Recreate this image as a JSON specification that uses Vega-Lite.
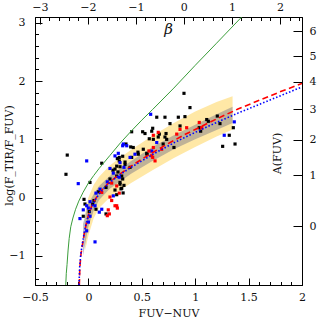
{
  "$schema": "https://vega.github.io/schema/vega-lite/v6.json",
  "width": 267,
  "height": 268,
  "autosize": "none",
  "padding": {"left": 35, "top": 17, "right": 17, "bottom": 34},
  "config": {
    "view": {"stroke": "black", "strokeWidth": 1},
    "axis": {
      "labelFont": "DejaVu Serif", "titleFont": "DejaVu Serif",
      "labelFontSize": 11, "titleFontSize": 11, "titleFontWeight": "normal",
      "labelColor": "#111", "titleColor": "#111",
      "domainColor": "black", "ticks": true, "tickColor": "black", "tickWidth": 1,
      "grid": false, "labelFlush": false, "labelOverlap": false
    }
  },
  "datasets": {
    "points": [
      {"c":0.895,"y":1.79,"g":"k"},{"c":0.951,"y":1.545,"g":"k"},{"c":0.64,"y":1.38,"g":"k"},{"c":0.717,"y":1.38,"g":"k"},
      {"c":0.842,"y":1.38,"g":"k"},{"c":0.904,"y":1.39,"g":"k"},{"c":1.207,"y":1.40,"g":"k"},{"c":1.108,"y":1.34,"g":"k"},
      {"c":1.123,"y":1.31,"g":"k"},{"c":1.232,"y":1.27,"g":"k"},{"c":1.357,"y":1.20,"g":"k"},{"c":1.319,"y":1.07,"g":"k"},
      {"c":1.373,"y":0.92,"g":"k"},{"c":1.257,"y":0.88,"g":"k"},{"c":1.051,"y":1.14,"g":"k"},{"c":0.764,"y":1.27,"g":"k"},
      {"c":0.858,"y":1.23,"g":"k"},{"c":0.602,"y":1.19,"g":"k"},{"c":0.405,"y":1.13,"g":"k"},{"c":0.508,"y":1.13,"g":"k"},
      {"c":0.53,"y":1.10,"g":"k"},{"c":0.727,"y":1.10,"g":"k"},{"c":0.57,"y":1.01,"g":"k"},{"c":0.352,"y":0.92,"g":"k"},
      {"c":0.396,"y":0.87,"g":"k"},{"c":0.514,"y":0.83,"g":"k"},{"c":0.42,"y":0.86,"g":"k"},{"c":0.271,"y":0.67,"g":"k"},
      {"c":0.321,"y":0.71,"g":"k"},{"c":0.289,"y":0.69,"g":"k"},{"c":0.405,"y":0.69,"g":"k"},{"c":0.464,"y":0.78,"g":"k"},
      {"c":0.549,"y":0.745,"g":"k"},{"c":0.801,"y":0.86,"g":"k"},{"c":0.70,"y":0.92,"g":"k"},{"c":-0.198,"y":0.73,"g":"k"},
      {"c":-0.21,"y":0.40,"g":"k"},{"c":0.125,"y":0.59,"g":"k"},{"c":0.289,"y":0.63,"g":"k"},{"c":0.343,"y":0.61,"g":"k"},
      {"c":0.296,"y":0.53,"g":"k"},{"c":0.39,"y":0.52,"g":"k"},{"c":0.343,"y":0.57,"g":"k"},{"c":0.265,"y":0.54,"g":"k"},
      {"c":0.249,"y":0.49,"g":"k"},{"c":0.23,"y":0.47,"g":"k"},{"c":0.312,"y":0.37,"g":"k"},{"c":0.277,"y":0.44,"g":"k"},
      {"c":0.015,"y":0.26,"g":"k"},{"c":0.265,"y":0.37,"g":"k"},{"c":0.202,"y":0.32,"g":"k"},{"c":0.321,"y":0.32,"g":"k"},
      {"c":0.296,"y":0.26,"g":"k"},{"c":0.333,"y":0.21,"g":"k"},{"c":0.312,"y":0.16,"g":"k"},{"c":0.165,"y":0.175,"g":"k"},
      {"c":0.249,"y":0.13,"g":"k"},{"c":0.093,"y":0.10,"g":"k"},{"c":0.265,"y":0.05,"g":"k"},{"c":-0.041,"y":-0.03,"g":"k"},
      {"c":0.052,"y":-0.05,"g":"k"},{"c":0.04,"y":-0.11,"g":"k"},{"c":0.071,"y":-0.20,"g":"k"},{"c":0.008,"y":-0.24,"g":"k"},
      {"c":-0.048,"y":-0.32,"g":"k"},{"c":0.165,"y":-0.28,"g":"k"},{"c":-0.032,"y":-0.11,"g":"k"},{"c":0.593,"y":1.14,"g":"k"},
      {"c":0.664,"y":1.09,"g":"k"},{"c":0.608,"y":1.00,"g":"k"},{"c":0.467,"y":0.745,"g":"k"},{"c":0.546,"y":0.76,"g":"k"},
      {"c":0.654,"y":1.04,"g":"k"},{"c":0.717,"y":1.04,"g":"k"},{"c":0.733,"y":1.00,"g":"k"},{"c":1.038,"y":1.20,"g":"k"},
      {"c":0.296,"y":0.23,"g":"k"},{"c":0.305,"y":0.15,"g":"k"},{"c":0.325,"y":0.08,"g":"k"},
      {"c":0.583,"y":1.43,"g":"b"},{"c":0.327,"y":0.92,"g":"b"},{"c":0.359,"y":0.89,"g":"b"},{"c":0.321,"y":0.89,"g":"b"},
      {"c":0.28,"y":0.76,"g":"b"},{"c":0.436,"y":0.745,"g":"b"},{"c":0.249,"y":0.716,"g":"b"},{"c":0.39,"y":0.69,"g":"b"},
      {"c":-0.016,"y":0.63,"g":"b"},{"c":0.202,"y":0.50,"g":"b"},{"c":0.333,"y":0.52,"g":"b"},{"c":-0.095,"y":0.24,"g":"b"},
      {"c":0.233,"y":0.42,"g":"b"},{"c":0.289,"y":0.35,"g":"b"},{"c":0.177,"y":0.27,"g":"b"},{"c":0.109,"y":0.145,"g":"b"},
      {"c":0.071,"y":0.077,"g":"b"},{"c":0.233,"y":0.03,"g":"b"},{"c":0.015,"y":-0.07,"g":"b"},{"c":0.062,"y":-0.14,"g":"b"},
      {"c":-0.001,"y":-0.18,"g":"b"},{"c":-0.048,"y":-0.21,"g":"b"},{"c":0.125,"y":-0.20,"g":"b"},{"c":0.102,"y":-0.25,"g":"b"},
      {"c":-0.079,"y":-0.36,"g":"b"},{"c":0.015,"y":-0.32,"g":"b"},{"c":0.062,"y":-0.76,"g":"b"},{"c":0.64,"y":0.945,"g":"b"},
      {"c":0.593,"y":0.80,"g":"b"},{"c":1.366,"y":1.30,"g":"b"},{"c":1.272,"y":1.07,"g":"b"},{"c":0.0,"y":-0.42,"g":"b"},
      {"c":-0.016,"y":-0.57,"g":"b"},{"c":0.296,"y":0.60,"g":"b"},{"c":-0.016,"y":-0.14,"g":"b"},
      {"c":0.654,"y":1.12,"g":"r"},{"c":0.608,"y":1.07,"g":"r"},{"c":0.858,"y":1.17,"g":"r"},{"c":0.92,"y":1.20,"g":"r"},
      {"c":1.038,"y":1.29,"g":"r"},{"c":1.061,"y":1.20,"g":"r"},{"c":0.827,"y":1.09,"g":"r"},{"c":0.686,"y":0.83,"g":"r"},
      {"c":0.602,"y":0.69,"g":"r"},{"c":0.624,"y":0.63,"g":"r"},{"c":0.567,"y":0.80,"g":"r"},{"c":0.593,"y":0.72,"g":"r"},
      {"c":0.608,"y":0.86,"g":"r"},{"c":0.218,"y":0.25,"g":"r"},{"c":0.125,"y":0.09,"g":"r"},{"c":0.289,"y":0.077,"g":"r"},
      {"c":0.218,"y":-0.05,"g":"r"},{"c":0.265,"y":-0.14,"g":"r"},{"c":0.186,"y":-0.21,"g":"r"},{"c":0.196,"y":-0.28,"g":"r"},
      {"c":0.271,"y":-0.18,"g":"r"},{"c":0.177,"y":-0.31,"g":"r"},{"c":0.249,"y":-0.14,"g":"r"},{"c":0.265,"y":0.20,"g":"r"},
      {"c":0.202,"y":0.01,"g":"r"}
    ],
    "green": [
      {"c":-0.212,"y":-1.5},{"c":-0.207,"y":-1.3},{"c":-0.2,"y":-1.15},{"c":-0.19,"y":-0.9},{"c":-0.18,"y":-0.7},
      {"c":-0.165,"y":-0.5},{"c":-0.145,"y":-0.35},{"c":-0.12,"y":-0.2},{"c":-0.09,"y":-0.06},{"c":-0.05,"y":0.09},
      {"c":0.0,"y":0.25},{"c":0.05,"y":0.38},{"c":0.1,"y":0.5},{"c":0.15,"y":0.61},{"c":0.2,"y":0.72},{"c":0.3,"y":0.94},
      {"c":0.4,"y":1.14},{"c":0.5,"y":1.33},{"c":0.6,"y":1.51},{"c":0.8,"y":1.88},{"c":1.0,"y":2.27},{"c":1.2,"y":2.65},
      {"c":1.435,"y":3.1}
    ],
    "red": [
      {"c":-0.085,"y":-1.5},{"c":-0.08,"y":-1.2},{"c":-0.07,"y":-0.98},{"c":-0.055,"y":-0.8},{"c":-0.04,"y":-0.63},
      {"c":-0.02,"y":-0.45},{"c":0.0,"y":-0.3},{"c":0.03,"y":-0.15},{"c":0.06,"y":-0.04},{"c":0.1,"y":0.07},
      {"c":0.15,"y":0.18},{"c":0.2,"y":0.27},{"c":0.3,"y":0.41},{"c":0.4,"y":0.54},{"c":0.5,"y":0.66},{"c":0.6,"y":0.77},
      {"c":0.7,"y":0.88},{"c":0.8,"y":0.98},{"c":0.9,"y":1.08},{"c":1.0,"y":1.17},{"c":1.2,"y":1.35},{"c":1.4,"y":1.52},
      {"c":1.6,"y":1.67},{"c":1.8,"y":1.82},{"c":2.0,"y":1.96}
    ],
    "blue": [
      {"c":-0.088,"y":-1.5},{"c":-0.082,"y":-1.2},{"c":-0.072,"y":-0.98},{"c":-0.057,"y":-0.8},{"c":-0.042,"y":-0.63},
      {"c":-0.022,"y":-0.45},{"c":0.0,"y":-0.31},{"c":0.03,"y":-0.16},{"c":0.06,"y":-0.05},{"c":0.1,"y":0.06},
      {"c":0.15,"y":0.17},{"c":0.2,"y":0.26},{"c":0.3,"y":0.40},{"c":0.4,"y":0.52},{"c":0.5,"y":0.63},{"c":0.6,"y":0.74},
      {"c":0.7,"y":0.84},{"c":0.8,"y":0.94},{"c":0.9,"y":1.03},{"c":1.0,"y":1.12},{"c":1.2,"y":1.29},{"c":1.4,"y":1.45},
      {"c":1.6,"y":1.6},{"c":1.8,"y":1.75},{"c":2.0,"y":1.9}
    ],
    "yellow": [
      {"c":-0.03,"y":-0.9,"y2":-0.25},{"c":0.0,"y":-0.65,"y2":0.0},{"c":0.05,"y":-0.35,"y2":0.22},
      {"c":0.1,"y":-0.18,"y2":0.36},{"c":0.2,"y":0.0,"y2":0.55},{"c":0.3,"y":0.13,"y2":0.69},
      {"c":0.4,"y":0.25,"y2":0.82},{"c":0.6,"y":0.47,"y2":1.06},{"c":0.8,"y":0.68,"y2":1.28},
      {"c":1.0,"y":0.87,"y2":1.48},{"c":1.2,"y":1.05,"y2":1.64},{"c":1.35,"y":1.17,"y2":1.74}
    ],
    "gray": [
      {"c":-0.05,"y":-1.0,"y2":-0.45},{"c":0.0,"y":-0.5,"y2":-0.1},{"c":0.05,"y":-0.22,"y2":0.06},
      {"c":0.1,"y":-0.04,"y2":0.2},{"c":0.2,"y":0.15,"y2":0.37},{"c":0.3,"y":0.28,"y2":0.5},
      {"c":0.4,"y":0.41,"y2":0.63},{"c":0.6,"y":0.63,"y2":0.87},{"c":0.8,"y":0.83,"y2":1.07},
      {"c":1.0,"y":1.0,"y2":1.25},{"c":1.2,"y":1.16,"y2":1.43},{"c":1.35,"y":1.28,"y2":1.56}
    ],
    "frame": [{"beta": 0, "a": 0}]
  },
  "resolve": {"scale": {"x": "independent", "y": "independent"}, "axis": {"x": "independent", "y": "independent"}},
  "layer": [
    {
      "encoding": {
        "x": {"field": "c", "type": "quantitative", "scale": {"domain": [-0.5, 2], "nice": false, "zero": false},
          "axis": {"orient": "bottom", "title": "FUV−NUV",
            "values": [-0.5,-0.4,-0.3,-0.2,-0.1,0,0.1,0.2,0.3,0.4,0.5,0.6,0.7,0.8,0.9,1,1.1,1.2,1.3,1.4,1.5,1.6,1.7,1.8,1.9,2],
            "tickSize": -7,
            "tickDash": {"condition": {"test": "abs(datum.value*2 - round(datum.value*2)) < 0.01", "value": [8, 1]}, "value": [3.5, 100]},
            "labelExpr": "abs(datum.value*2 - round(datum.value*2)) < 0.01 ? format(datum.value, '.1~f') : ''",
            "labelPadding": 13, "titleY": 28, "titleBaseline": "middle"}},
        "y": {"field": "y", "type": "quantitative", "scale": {"domain": [-1.5, 3.1], "nice": false, "zero": false},
          "axis": {"orient": "left", "title": "log(F_TIR/F_FUV)",
            "values": [-1.4,-1.2,-1,-0.8,-0.6,-0.4,-0.2,0,0.2,0.4,0.6,0.8,1,1.2,1.4,1.6,1.8,2,2.2,2.4,2.6,2.8,3],
            "tickSize": -7,
            "tickDash": {"condition": {"test": "abs(datum.value - round(datum.value)) < 0.01", "value": [8, 1]}, "value": [3.5, 100]},
            "labelExpr": "abs(datum.value - round(datum.value)) < 0.01 ? format(datum.value, 'd') : ''",
            "labelPadding": 17, "titleX": -26, "titleY": 138, "titleBaseline": "middle", "titleAngle": 270}}
      },
      "layer": [
        {
          "data": {"name": "yellow"},
          "mark": {"type": "area", "color": "#FFD24D", "opacity": 0.5},
          "encoding": {"y2": {"field": "y2"}}
        },
        {
          "data": {"name": "gray"},
          "mark": {"type": "area", "color": "#707084", "opacity": 0.45},
          "encoding": {"y2": {"field": "y2"}}
        },
        {
          "data": {"name": "points"},
          "mark": {"type": "square", "size": 10, "opacity": 1},
          "encoding": {
            "color": {"field": "g", "type": "nominal", "scale": {"domain": ["k", "b", "r"], "range": ["#000000", "#0000ff", "#ff0000"]}, "legend": null}
          }
        },
        {
          "data": {"name": "green"},
          "mark": {"type": "line", "color": "#3a9d3a", "strokeWidth": 1, "clip": true},
          "encoding": {}
        },
        {
          "data": {"name": "red"},
          "mark": {"type": "line", "color": "#ff0000", "strokeWidth": 1.6, "strokeDash": [6, 3.5], "clip": true},
          "encoding": {}
        },
        {
          "data": {"name": "blue"},
          "mark": {"type": "line", "color": "#0000ff", "strokeWidth": 1.6, "strokeDash": [1.5, 2], "clip": true},
          "encoding": {}
        }
      ]
    },
    {
      "data": {"name": "frame"},
      "mark": {"type": "point", "opacity": 0},
      "encoding": {
        "x": {"field": "beta", "type": "quantitative", "scale": {"domain": [-3.10, 2.46], "nice": false, "zero": false},
          "axis": {"orient": "top", "title": "β", "titleFontStyle": "italic", "titleFontSize": 15,
            "titleX": 133, "titleY": 11, "titleBaseline": "middle", "titleAlign": "center", "titleAngle": 0,
            "values": [-3,-2.8,-2.6,-2.4,-2.2,-2,-1.8,-1.6,-1.4,-1.2,-1,-0.8,-0.6,-0.4,-0.2,0,0.2,0.4,0.6,0.8,1,1.2,1.4,1.6,1.8,2,2.2,2.4],
            "tickSize": -7,
            "tickDash": {"condition": {"test": "abs(datum.value - round(datum.value)) < 0.01", "value": [8, 1]}, "value": [3.5, 100]},
            "labelExpr": "abs(datum.value - round(datum.value)) < 0.01 ? format(datum.value, 'd') : ''",
            "labelPadding": 12}},
        "y": {"field": "a", "type": "quantitative", "scale": {"domain": [-1.5, 3.1], "nice": false, "zero": false},
          "axis": {"orient": "right", "title": "A(FUV)",
            "values": [-0.489, 0.38, 0.993, 1.514, 1.986, 2.428, 2.852],
            "tickSize": -9,
            "labelExpr": "datum.value < 0 ? '0' : datum.value < 0.5 ? '1' : datum.value < 1.2 ? '2' : datum.value < 1.7 ? '3' : datum.value < 2.2 ? '4' : datum.value < 2.6 ? '5' : '6'",
            "labelPadding": 16, "titleX": -25, "titleY": 136, "titleAngle": 270, "titleBaseline": "middle", "titleAlign": "center"}}
      }
    }
  ]
}
